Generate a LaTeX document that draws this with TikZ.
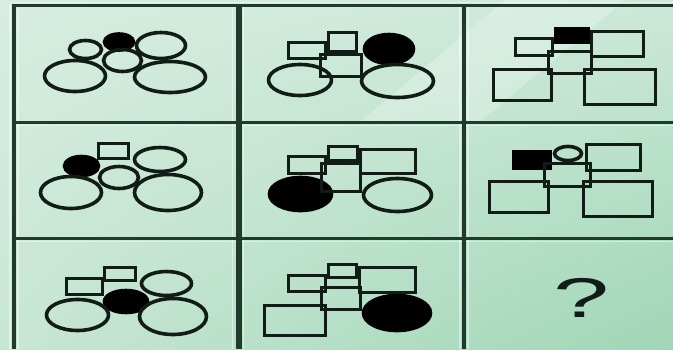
\documentclass[tikz,border=0pt]{standalone}
\usepackage{fontspec}
\setmainfont{Liberation Sans}
\usetikzlibrary{shadings}
\definecolor{inkcol}{RGB}{18,28,22}
\definecolor{gridcol}{RGB}{32,58,46}
\definecolor{bgul}{RGB}{214,237,224}
\definecolor{bgur}{RGB}{204,232,216}
\definecolor{bgll}{RGB}{200,230,212}
\definecolor{bglr}{RGB}{160,214,182}
\tikzset{
  outline/.style={draw=inkcol,line width=3.6pt},
  solid shape/.style={draw=black,fill=black,line width=3.6pt},
  gridline/.style={draw=gridcol,line width=4pt},
  gridglow/.style={draw=white,opacity=0.45,line width=1.5pt},
  every picture/.style={line cap=butt,line join=miter}
}

\begin{document}
\begin{tikzpicture}[x=1pt,y=-1pt]
  \useasboundingbox (0,0) rectangle (673,349);
  \shade[upper left=bgul,upper right=bgur,lower left=bgll,lower right=bglr] (0,0) rectangle (673,349);
  \fill[white,opacity=0.25] (360,122) -- (480,122) -- (625,0) -- (505,0) -- cycle;

  \draw[gridglow] (10,2.5) -- (673,2.5) (10,125.5) -- (673,125.5) (10,241.5) -- (673,241.5);
  \draw[gridglow] (18,4) -- (18,349) (243.5,4) -- (243.5,349) (468,4) -- (468,349)
                  (10,4) -- (10,349) (232.5,4) -- (232.5,349) (460,4) -- (460,349);
  \draw[gridline,line width=3pt] (12,5.5) -- (673,5.5) (12,122) -- (673,122) (12,238) -- (673,238);
  \draw[gridline] (14,4) -- (14,349) (464,4) -- (464,349);
  \draw[gridline,line width=6pt] (238.5,4) -- (238.5,349);

  \begin{scope}[shift={(14,6)}]
    \draw[solid shape] (105,36) ellipse (14.5pt and 8pt);
    \draw[outline] (71.5,43.5) ellipse (16pt and 9pt);
    \draw[outline] (147,39.5) ellipse (24.5pt and 13pt);
    \draw[outline] (108.5,54.5) ellipse (19pt and 11pt);
    \draw[outline] (61,70) ellipse (30.5pt and 15.5pt);
    \draw[outline] (156,71) ellipse (35.5pt and 15.5pt);
  \end{scope}

  \begin{scope}[shift={(238,6)}]
    \draw[solid shape] (151,43) ellipse (24.5pt and 14.5pt);
    \draw[outline] (50.5,36.5) rectangle (87.5,52.5);
    \draw[outline] (90.5,26.5) rectangle (118.5,45.5);
    \draw[outline] (82.5,48.5) rectangle (123.5,70.5);
    \draw[outline] (62,74) ellipse (31.5pt and 15.5pt);
    \draw[outline] (159.5,75) ellipse (36pt and 16.5pt);
  \end{scope}

  \begin{scope}[shift={(464,6)}]
    \draw[solid shape] (91.5,22.5) rectangle (124.5,36.5);
    \draw[outline] (51.5,32.5) rectangle (88.5,49.5);
    \draw[outline] (127.5,25.5) rectangle (179.5,50.5);
    \draw[outline] (84.5,45.5) rectangle (127.5,67.5);
    \draw[outline] (29.5,63.5) rectangle (87.5,94.5);
    \draw[outline] (120.5,63.5) rectangle (191.5,98.5);
  \end{scope}

  \begin{scope}[shift={(14,122)}]
    \draw[solid shape] (67.5,44) ellipse (17pt and 9.5pt);
    \draw[outline] (84.5,21.5) rectangle (114.5,36.5);
    \draw[outline] (146,37.5) ellipse (25.5pt and 12pt);
    \draw[outline] (105,55.5) ellipse (19.5pt and 11pt);
    \draw[outline] (57,70.5) ellipse (30.5pt and 16pt);
    \draw[outline] (154,70.5) ellipse (33.5pt and 18pt);
  \end{scope}

  \begin{scope}[shift={(238,122)}]
    \draw[solid shape] (62.5,72) ellipse (31pt and 16.5pt);
    \draw[outline] (50.5,34.5) rectangle (87.5,51.5);
    \draw[outline] (90.5,24.5) rectangle (119.5,38.5);
    \draw[outline] (122.5,27.5) rectangle (177.5,51.5);
    \draw[outline] (83.5,41.5) rectangle (122.5,69.5);
    \draw[outline] (159.5,73) ellipse (34pt and 16.5pt);
  \end{scope}

  \begin{scope}[shift={(464,122)}]
    \draw[solid shape] (49.5,29.5) rectangle (86.5,46.5);
    \draw[outline] (104,31.5) ellipse (13.5pt and 7pt);
    \draw[outline] (122.5,22.5) rectangle (176.5,48.5);
    \draw[outline] (80.5,41.5) rectangle (126.5,64.5);
    \draw[outline] (25.5,59.5) rectangle (84.5,90.5);
    \draw[outline] (119.5,59.5) rectangle (188.5,94.5);
  \end{scope}

  \begin{scope}[shift={(14,238)}]
    \draw[solid shape] (112,63.5) ellipse (21.5pt and 11pt);
    \draw[outline] (52.5,40.5) rectangle (88.5,56.5);
    \draw[outline] (90.5,29.5) rectangle (121.5,42.5);
    \draw[outline] (152.5,45.5) ellipse (25pt and 12pt);
    \draw[outline] (63.5,77) ellipse (31pt and 15.5pt);
    \draw[outline] (159,78.5) ellipse (33.5pt and 18pt);
  \end{scope}

  \begin{scope}[shift={(238,238)}]
    \draw[solid shape] (159,75) ellipse (33.5pt and 17.5pt);
    \draw[outline] (50.5,37.5) rectangle (87.5,53.5);
    \draw[outline] (90.5,26.5) rectangle (118.5,39.5);
    \draw[outline] (121.5,29.5) rectangle (177.5,54.5);
    \draw[outline] (83.5,49.5) rectangle (122.5,71.5);
    \draw[outline] (26.5,67.5) rectangle (87.5,97.5);
  \end{scope}

  \node[inner sep=0pt,text=inkcol] (qmark) at (581.5,297.5)
    {\scalebox{1.8}[1]{\fontsize{56}{56}\selectfont ?}};
\end{tikzpicture}
\end{document}
